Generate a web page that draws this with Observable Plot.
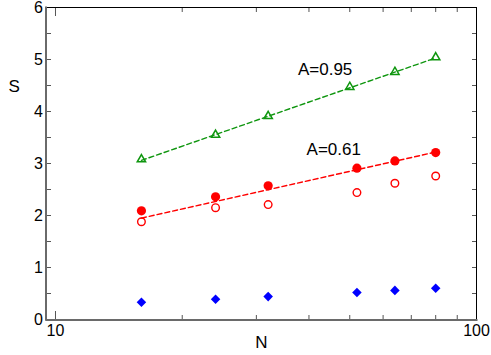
<!DOCTYPE html>
<html><head><meta charset="utf-8">
<script src="https://cdn.jsdelivr.net/npm/d3@7"></script>
<script src="https://cdn.jsdelivr.net/npm/@observablehq/plot@0.6"></script>
<style>body{margin:0;background:#fff}</style>
</head><body><div id="chart"></div>
<script>
const nRed = [16, 24, 32, 52, 64, 80];
const nGreen = [16, 24, 32, 50, 64, 80];
const sGreen = [3.08, 3.55, 3.91, 4.47, 4.76, 5.04];
const sRedFilled = [2.09, 2.36, 2.57, 2.91, 3.05, 3.21];
const sRedOpen = [1.88, 2.15, 2.21, 2.44, 2.62, 2.76];
const sBlue = [0.33, 0.39, 0.44, 0.52, 0.56, 0.60];
const fitN = [16, 80];
const fitGreen = [3.06, 5.03];
const fitRed = [1.95, 3.22];
const annText = ["A=0.95", "A=0.61"];
const annN = [43.7, 45.8];
const annS = [4.81, 3.26];
const xMajor = [10, 100];
const xMinor = [20, 30, 40, 50, 60, 70, 80, 90];
const yMajor = [0, 1, 2, 3, 4, 5, 6];
const yMinor = [0.5, 1.5, 2.5, 3.5, 4.5, 5.5];
const xDomain = [9.52, 100];
const yDomain = [0, 6];

const green = "#0f960f", red = "#ff0000", blue = "#0000ff";
const pts = (xs, ys) => xs.map((x, i) => ({n: x, s: ys[i]}));
const font = "Liberation Sans, Arial, Helvetica, sans-serif";

const chart = Plot.plot({
  width: 491, height: 355,
  marginLeft: 46, marginRight: 15, marginTop: 7, marginBottom: 36,
  style: {fontFamily: font, fontSize: "16px", background: "#fff"},
  x: {type: "log", domain: xDomain},
  y: {domain: yDomain},
  marks: [
    // minor ticks
    Plot.axisX(xMinor, {anchor: "bottom", tickSize: -4, text: null, label: null, stroke: "#555"}),
    Plot.axisX(xMinor, {anchor: "top", tickSize: -4, text: null, label: null, stroke: "#555"}),
    Plot.axisY(yMinor, {anchor: "left", tickSize: -5, text: null, label: null, stroke: "#555"}),
    Plot.axisY(yMinor, {anchor: "right", tickSize: -5, text: null, label: null, stroke: "#555"}),
    Plot.axisY(yMajor, {anchor: "right", tickSize: -5, text: null, label: null, stroke: "#555"}),
    Plot.axisX(xMajor, {anchor: "top", tickSize: -8, text: null, label: null, stroke: "#555"}),
    // major ticks with labels
    Plot.axisX(xMajor, {anchor: "bottom", tickSize: -8, tickPadding: 13, tickFormat: d => String(d), label: null, fill: "#000", stroke: "#555", fontSize: 16}),
    Plot.axisY(yMajor, {anchor: "left", tickSize: -5, tickPadding: 8.5, tickFormat: d => String(d), label: null, fill: "#000", stroke: "#555", fontSize: 16}),
    Plot.frame({stroke: "#000", strokeWidth: 1}),
    Plot.frame({anchor: "left", stroke: "#6a6a6a", strokeWidth: 2, dx: -0.5}),
    Plot.frame({anchor: "bottom", stroke: "#6a6a6a", strokeWidth: 2, dy: 0.5}),
    // fits
    Plot.line(pts(fitN, fitGreen), {x: "n", y: "s", stroke: green, strokeWidth: 1.4, strokeDasharray: "5,3"}),
    Plot.line(pts(fitN, fitRed), {x: "n", y: "s", stroke: red, strokeWidth: 1.4, strokeDasharray: "5,3"}),
    // points
    Plot.dot(pts(nGreen, sGreen), {x: "n", y: "s", symbol: "triangle", r: 3.1, stroke: green, strokeWidth: 1.5, fill: "none"}),
    Plot.dot(pts(nRed, sRedOpen), {x: "n", y: "s", symbol: "circle", r: 3.8, stroke: red, strokeWidth: 1.4, fill: "none"}),
    Plot.dot(pts(nRed, sRedFilled), {x: "n", y: "s", symbol: "circle", r: 4.6, fill: red, stroke: "none"}),
    Plot.dot(pts(nRed, sBlue), {x: "n", y: "s", symbol: "diamond2", r: 4.3, fill: blue, stroke: "none"}),
    // annotations
    Plot.text(annText.map((t, i) => ({t, n: annN[i], s: annS[i]})), {x: "n", y: "s", text: "t", fontSize: 17, fill: "#000"}),
    Plot.text(["S"], {frameAnchor: "left", dx: -38, dy: -77, fontSize: 17, fill: "#000"}),
    Plot.text(["N"], {frameAnchor: "bottom", dy: 28, fontSize: 17, fill: "#000"})
  ]
});
document.getElementById("chart").appendChild(chart);
</script>
</body></html>
